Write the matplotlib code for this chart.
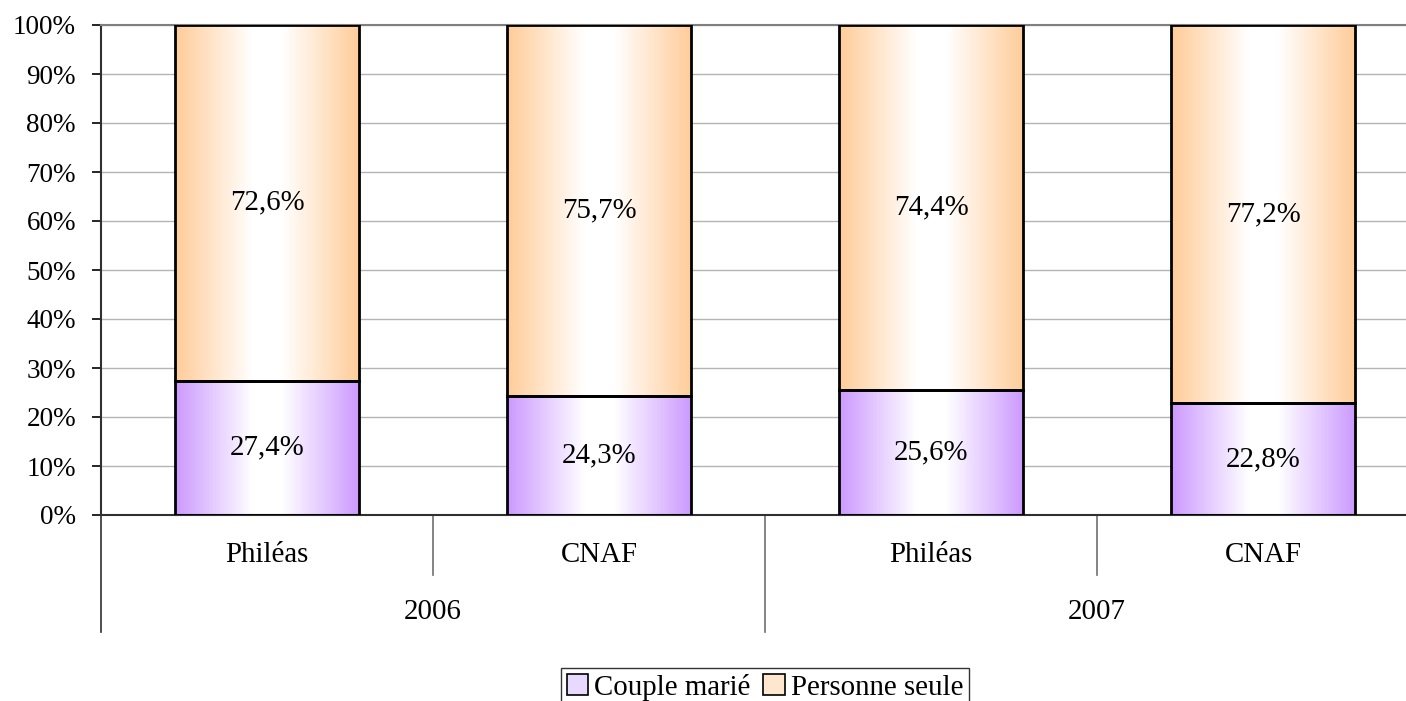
import numpy as np
import matplotlib
matplotlib.use('Agg')
import matplotlib.pyplot as plt
from matplotlib.patches import Patch
from matplotlib.colors import LinearSegmentedColormap

# data
categories = ['Philéas', 'CNAF', 'Philéas', 'CNAF']
years = ['2006', '2007']
couple_marie = [27.4, 24.3, 25.6, 22.8]
personne_seule = [72.6, 75.7, 74.4, 77.2]
series_names = ['Couple marié', 'Personne seule']

plt.rcParams['font.family'] = ['Liberation Serif', 'DejaVu Serif']
FS = 20.8
FS_TICK = 19.5

fig = plt.figure(figsize=(14.06, 7.01), dpi=100)
W, H = 1406, 701
ax = fig.add_axes([101 / W, 186 / H, (1429 - 101) / W, 490 / H])

x = np.arange(len(categories))
bw = 0.555
b1 = ax.bar(x, couple_marie, bw, color='none', edgecolor='black', linewidth=2.0, zorder=3)
b2 = ax.bar(x, personne_seule, bw, bottom=couple_marie, color='none',
            edgecolor='black', linewidth=2.0, zorder=3)

# horizontal gradient: coloured edges, white centre
def grad_cmap(c):
    return LinearSegmentedColormap.from_list('g', [(0, c), (0.42, 'white'), (0.58, 'white'), (1, c)])

t = np.linspace(0, 1, 256).reshape(1, -1)
for bars, col in [(b1, '#CC99FF'), (b2, '#FFCC99')]:
    cm = grad_cmap(col)
    for p in bars:
        x0, y0 = p.get_x(), p.get_y()
        im = ax.imshow(t, cmap=cm, aspect='auto', interpolation='bilinear',
                       extent=[x0, x0 + p.get_width(), y0, y0 + p.get_height()], zorder=2)
        im.set_clip_path(p)

# value labels
for i in range(len(categories)):
    ax.text(x[i], couple_marie[i] / 2, f'{couple_marie[i]:.1f}%'.replace('.', ','),
            ha='center', va='center', fontsize=FS, zorder=4)
    ax.text(x[i], couple_marie[i] + personne_seule[i] / 2, f'{personne_seule[i]:.1f}%'.replace('.', ','),
            ha='center', va='center', fontsize=FS, zorder=4)

ax.set_xlim(-0.5, len(categories) - 0.5)
ax.set_ylim(0, 100)
ax.set_yticks(np.arange(0, 101, 10))
ax.set_yticklabels([f'{v}%' for v in range(0, 101, 10)], fontsize=FS_TICK)
ax.tick_params(axis='y', length=6.5, width=1.2, pad=11.5, color='black')
ax.set_xticks([])
ax.yaxis.grid(True, color='#b4b4b4', linewidth=1)
ax.set_axisbelow(True)
ax.spines['right'].set_visible(False)
ax.spines['top'].set_color('#808080')
ax.spines['top'].set_linewidth(1.5)
ax.spines['left'].set_color('#303030')
ax.spines['left'].set_linewidth(1.5)
ax.spines['bottom'].set_color('#303030')
ax.spines['bottom'].set_linewidth(1.5)

# two-level category axis
tr = ax.get_xaxis_transform()
ax.plot([-0.5, -0.5], [0, -0.239], transform=tr, color='#303030', lw=1.2, clip_on=False)
ax.plot([1.5, 1.5], [0, -0.239], transform=tr, color='#707070', lw=1.2, clip_on=False)
for xd in [0.5, 2.5]:
    ax.plot([xd, xd], [0, -0.122], transform=tr, color='#707070', lw=1.2, clip_on=False)
for i, c in enumerate(categories):
    ax.text(x[i], -0.082, c, transform=tr, ha='center', va='center', fontsize=FS)
for j, yr in enumerate(years):
    ax.text(0.5 + 2 * j, -0.198, yr, transform=tr, ha='center', va='center', fontsize=FS)

handles = [Patch(facecolor='#E8D9FF', edgecolor='black', lw=1.2),
           Patch(facecolor='#FFE6CF', edgecolor='black', lw=1.2)]
leg = ax.legend(handles, series_names, loc='upper center', bbox_to_anchor=((765 - 101) / 1328, -0.312),
                ncol=2, fontsize=FS, frameon=True, fancybox=False, edgecolor='black',
                handlelength=0.75, handleheight=0.75, handletextpad=0.2, columnspacing=0.45,
                borderpad=0.2, borderaxespad=0)
leg.get_frame().set_linewidth(1.0)

fig.savefig('out.png', dpi=100)
